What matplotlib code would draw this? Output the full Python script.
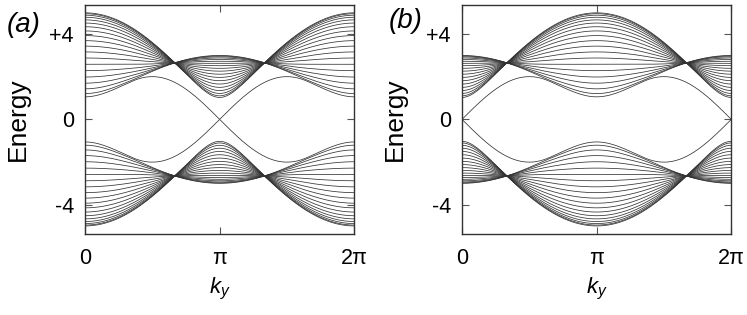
import numpy as np
import matplotlib

matplotlib.use("Agg")
import matplotlib.pyplot as plt

plt.rcParams["font.family"] = ["Liberation Sans", "DejaVu Sans"]
plt.rcParams["mathtext.fontset"] = "custom"
plt.rcParams["mathtext.rm"] = "Liberation Sans"
plt.rcParams["mathtext.it"] = "Liberation Sans:italic"

# ribbon model parameters (E at ky=0 / pi, pinch points)
PANEL_LABELS = ["(a)", "(b)"]
MASS = [1.0, -1.0]
HOPPING = 2.0
N_SITES = 20
N_K = 400

X_TICKS = [0, np.pi, 2 * np.pi]
X_TICK_LABELS = ["0", "\u03c0", "2\u03c0"]
Y_TICKS = [-4, 0, 4]
Y_TICK_LABELS = ["-4", "0", "+4"]

SX = np.array([[0, 1], [1, 0]], dtype=complex)
SY = np.array([[0, -1j], [1j, 0]], dtype=complex)
SZ = np.array([[1, 0], [0, -1]], dtype=complex)


def ribbon_bands(m, t, n, ky):
    hop = 0.5 * t * SZ - 0.5j * t * SX
    out = np.empty((len(ky), 2 * n))
    for i, k in enumerate(ky):
        h = np.zeros((2 * n, 2 * n), dtype=complex)
        onsite = (m + t * np.cos(k)) * SZ + t * np.sin(k) * SY
        for x in range(n):
            h[2 * x:2 * x + 2, 2 * x:2 * x + 2] = onsite
            if x + 1 < n:
                h[2 * x + 2:2 * x + 4, 2 * x:2 * x + 2] = hop
                h[2 * x:2 * x + 2, 2 * x + 2:2 * x + 4] = hop.conj().T
        out[i] = np.linalg.eigvalsh(h)
    return out


ky = np.linspace(0, 2 * np.pi, N_K)

fig = plt.figure(figsize=(7.47, 3.15), dpi=100)
lefts = [85 / 747, 462 / 747]
label_pos = [(24 / 747, 1 - 25 / 315), (406 / 747, 1 - 21 / 315)]

for j, m in enumerate(MASS):
    ax = fig.add_axes([lefts[j], 0.258, 0.3605, 0.726])
    bands = ribbon_bands(m, HOPPING, N_SITES, ky)
    ax.plot(ky, bands, color="#333333", linewidth=0.55)
    ax.set_xlim(0, 2 * np.pi)
    ax.set_ylim(-5.35, 5.35)
    ax.set_xticks(X_TICKS)
    ax.set_xticklabels(X_TICK_LABELS)
    ax.set_yticks(Y_TICKS)
    ax.set_yticklabels(Y_TICK_LABELS)
    ax.tick_params(direction="in", length=5, width=0.8, color="#555555",
                   top=True, right=True, labelsize=15.5)
    ax.tick_params(axis="x", pad=10)
    ax.tick_params(axis="y", pad=8)
    for sp in ax.spines.values():
        sp.set_color("#333333")
        sp.set_linewidth(1.0)
    ax.set_xlabel(r"$k_y$", fontsize=16, labelpad=5)
    ax.set_ylabel("Energy", fontsize=19)
    ax.yaxis.set_label_coords(-0.205, 0.5)
    fig.text(label_pos[j][0], label_pos[j][1], PANEL_LABELS[j], fontsize=20,
             style="italic", ha="center", va="center")

fig.savefig("out.png", dpi=100)
